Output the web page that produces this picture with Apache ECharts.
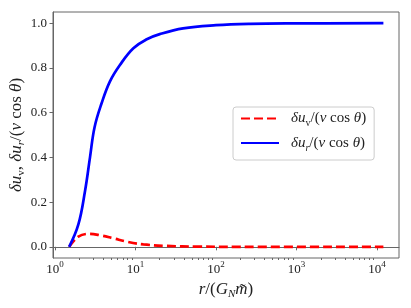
<!DOCTYPE html>
<html><head><meta charset="utf-8">
<script src="https://cdn.jsdelivr.net/npm/echarts@6/dist/echarts.min.js"></script>
<style>html,body{margin:0;padding:0;background:#fff}#c{width:411px;height:308px}</style>
</head><body><div id="c"></div>
<script>
// delta u_r / (v cos theta)  (blue, solid)
const blueX = [1.5, 1.95, 2.36, 2.72, 3.1, 3.8, 4.8, 6.4, 9.4, 13.8, 20, 39, 100, 265, 1000, 12000];
const blueY = [0, 0.10, 0.25, 0.40, 0.535, 0.643, 0.739, 0.813, 0.888, 0.928, 0.951, 0.977, 0.991, 0.997, 0.999, 1.0];
// delta u_v / (v cos theta)  (red, dashed)
const redX = [1.5, 1.95, 2.7, 3.6, 5.3, 7.8, 12.5, 24, 60, 200, 12000];
const redY = [0, 0.046, 0.058, 0.052, 0.038, 0.023, 0.011, 0.004, 0.001, 0, 0];

const yTicks = [0, 0.2, 0.4, 0.6, 0.8, 1.0];
const xMajorTicks = [1, 10, 100, 1000, 10000];
const xMinorTicks = [2,3,4,5,6,7,8,9,20,30,40,50,60,70,80,90,200,300,400,500,600,700,800,900,
  2000,3000,4000,5000,6000,7000,8000,9000];

const FONT = 'Liberation Serif';
const TXT = '#222';
const FRAME = '#666';
const xMin = Math.pow(10, -0.025), xMax = Math.pow(10, 4.273);

const rich = {
  n: {fontFamily: FONT, fontSize: 17, color: TXT, lineHeight: 20},
  i: {fontFamily: FONT, fontSize: 17, color: TXT, fontStyle: 'italic', lineHeight: 20},
  sub: {fontFamily: FONT, fontSize: 11, color: TXT, lineHeight: 12, verticalAlign: 'bottom'},
  isub: {fontFamily: FONT, fontSize: 11, color: TXT, fontStyle: 'italic', lineHeight: 12, verticalAlign: 'bottom'}
};
const legendRich = {
  n: {fontFamily: FONT, fontSize: 15, color: TXT, lineHeight: 20},
  i: {fontFamily: FONT, fontSize: 15, color: TXT, fontStyle: 'italic', lineHeight: 20},
  sub: {fontFamily: FONT, fontSize: 10, color: TXT, lineHeight: 11, verticalAlign: 'bottom'},
  isub: {fontFamily: FONT, fontSize: 10, color: TXT, fontStyle: 'italic', lineHeight: 11, verticalAlign: 'bottom'}
};
const legendNames = {
  dv: '{i|δu}{sub|v}{n|/(}{i|v}{n| cos }{i|θ}{n|)}',
  dr: '{i|δu}{isub|r}{n|/(}{i|v}{n| cos }{i|θ}{n|)}'
};

const chart = echarts.init(document.getElementById('c'), null, {renderer: 'canvas'});
chart.setOption({
  animation: false,
  backgroundColor: '#fff',
  grid: {left: 53, right: 12, top: 12, bottom: 50, containLabel: false, outerBoundsMode: 'none',
    show: true, borderColor: FRAME, borderWidth: 1, backgroundColor: 'transparent'},
  legend: {
    data: ['dv', 'dr'],
    orient: 'vertical',
    left: 233, top: 107,
    itemWidth: 38, itemHeight: 14, itemGap: 7,
    padding: [4, 8, 7, 7],
    backgroundColor: 'rgba(255,255,255,0.8)',
    borderColor: '#ccc', borderWidth: 1, borderRadius: 3,
    itemStyle: {opacity: 0},
    formatter: n => legendNames[n],
    textStyle: {rich: legendRich, padding: [0, 0, 0, 7]}
  },
  xAxis: [{
    type: 'log', logBase: 10, min: xMin, max: xMax,
    splitLine: {show: false},
    axisLine: {show: true, lineStyle: {color: FRAME, width: 1}},
    axisTick: {show: true, length: 3.5, lineStyle: {color: FRAME}, customValues: xMajorTicks},
    axisLabel: {
      customValues: xMajorTicks, margin: 2,
      formatter: v => '{b|10}{s|' + Math.round(Math.log10(v)) + '}',
      rich: {
        b: {fontFamily: FONT, fontSize: 13, color: TXT, lineHeight: 20},
        s: {fontFamily: FONT, fontSize: 9, color: TXT, lineHeight: 9, verticalAlign: 'top'}
      }
    },
    name: '{i|r}{n|/(}{i|G}{isub|N}{i|m̃}{n|)}',
    nameLocation: 'middle', nameGap: 22, nameMoveOverlap: false,
    nameTextStyle: {rich: rich}
  }, {
    type: 'log', logBase: 10, min: xMin, max: xMax, gridIndex: 0, position: 'bottom',
    splitLine: {show: false},
    axisLine: {show: false},
    axisTick: {show: true, length: 2, lineStyle: {color: FRAME}, customValues: xMinorTicks},
    axisLabel: {show: false}
  }],
  yAxis: {
    type: 'value', min: -0.05, max: 1.05,
    splitLine: {show: false},
    axisLine: {show: true, lineStyle: {color: FRAME, width: 1}},
    axisTick: {show: true, length: 3.5, lineStyle: {color: FRAME}, customValues: yTicks},
    axisLabel: {
      customValues: yTicks, margin: 6,
      formatter: v => v.toFixed(1),
      fontFamily: FONT, fontSize: 13, color: TXT
    },
    name: '{i|δu}{sub|v}{n|, }{i|δu}{isub|r}{n|/(}{i|v}{n| cos }{i|θ}{n|)}',
    nameLocation: 'middle', nameGap: 26, nameRotate: 90, nameMoveOverlap: false,
    nameTextStyle: {rich: rich}
  },
  series: [{
    name: 'dv', type: 'line', xAxisIndex: 0, symbol: 'none', showSymbol: false,
    smooth: 0.4,
    data: redX.map((x, i) => [x, redY[i]]),
    lineStyle: {color: '#ff0000', width: 2.7, type: [9, 4]},
    itemStyle: {color: '#ff0000'}
  }, {
    name: 'dr', type: 'line', xAxisIndex: 0, symbol: 'none', showSymbol: false,
    smooth: 0.4,
    data: blueX.map((x, i) => [x, blueY[i]]),
    lineStyle: {color: '#0000ff', width: 2.7},
    itemStyle: {color: '#0000ff'}
  }]
});
</script>
</body></html>
